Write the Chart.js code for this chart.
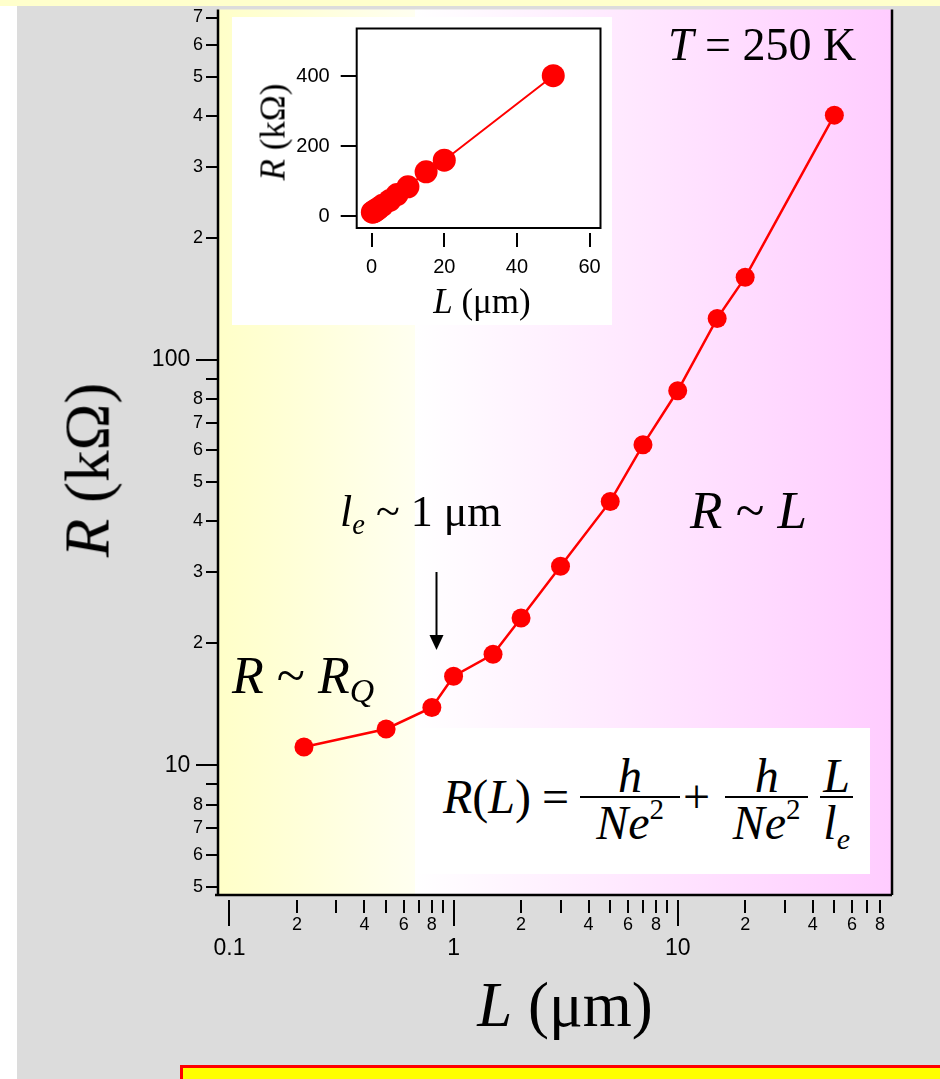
<!DOCTYPE html>
<html>
<head>
<meta charset="utf-8">
<title>R vs L at 250 K</title>
<script src="https://cdn.jsdelivr.net/npm/chart.js@4.4.1/dist/chart.umd.min.js"></script>
<style>
  html, body { margin: 0; padding: 0; background: #fff; }
  #page { position: relative; width: 940px; height: 1079px; overflow: hidden; background: #fff; }
  .abs { position: absolute; }
  #gray { left: 17px; top: 0; width: 923px; height: 1079px; background: #dcdcdc; }
  #topStrip { left: 0; top: 0; width: 940px; height: 6px; background: #ffffcc; }
  #bottomBox { left: 180px; top: 1065px; width: 780px; height: 40px; background: #ffff00; border: 3px solid #ff0000; box-sizing: border-box; }
  #mainChart { left: 0; top: 0; }
  #insetBox { left: 232px; top: 17px; width: 380px; height: 308px; background: #fff; }
  #formulaBox { left: 415px; top: 728px; width: 455px; height: 146px; background: #fff; }
  .txt { position: absolute; font-family: 'Liberation Serif', 'Times New Roman', serif; line-height: 1; white-space: nowrap; color: #000; }
  .sub { font-size: 0.65em; position: relative; top: 0.28em; }
  #formula { position: absolute; left: 443px; top: 746px; height: 102px; display: flex; align-items: center;
             font-family: 'Liberation Serif', 'Times New Roman', serif; font-size: 48px; color: #000; white-space: nowrap; }
  #formula .plain { line-height: 50px; height: 50px; }
  .frac { display: inline-flex; flex-direction: column; text-align: center; }
  .num { height: 50px; line-height: 50px; border-bottom: 2px solid #000; }
  .num i { position: relative; top: 5px; }
  .den { height: 50px; line-height: 50px; }
  .den sup { font-size: 29px; position: relative; top: -20px; vertical-align: baseline; line-height: 0; }
  .den .fsub { font-size: 30px; position: relative; top: 10px; line-height: 0; }
</style>
</head>
<body>
<div id="page">
  <div id="gray" class="abs"></div>
  <canvas id="mainChart" class="abs" width="940" height="1079"></canvas>

  <div id="insetBox" class="abs"><canvas id="insetChart" width="380" height="308"></canvas></div>
  <div class="txt" style="left:273px; top:132px; font-size:35px; transform:translate(-50%,-50%) rotate(-90deg);"><i>R</i> (kΩ)</div>
  <div class="txt" style="left:482px; top:283.7px; font-size:35px; transform:translateX(-50%);"><i>L</i> (μm)</div>

  <div class="txt" style="left:88px; top:470px; font-size:63px; transform:translate(-50%,-50%) rotate(-90deg);"><i>R</i> (kΩ)</div>
  <div class="txt" style="left:565px; top:974px; font-size:63px; transform:translateX(-50%);"><i>L</i> (μm)</div>

  <div class="txt" style="left:668px; top:21.5px; font-size:46px;"><i>T</i> = 250 K</div>
  <div class="txt" style="left:690px; top:483.5px; font-size:53px;"><i>R</i> ~ <i>L</i></div>
  <div class="txt" style="left:340px; top:490px; font-size:44px;"><i>l<span class="sub">e</span></i> ~ 1 μm</div>
  <div class="txt" style="left:232px; top:649.5px; font-size:52px;"><i>R</i> ~ <i>R<span class="sub">Q</span></i></div>

  <svg class="abs" style="left:424px; top:565px;" width="26" height="92">
    <line x1="12.5" y1="7" x2="12.5" y2="72" stroke="#000" stroke-width="2"/>
    <polygon points="5.5,70 19.5,70 12.5,85" fill="#000"/>
  </svg>

  <div id="formulaBox" class="abs"></div>
  <div id="formula">
    <span class="plain"><i>R</i>(<i>L</i>)</span>
    <span class="plain" style="margin-left:11px;">=</span>
    <span class="frac" style="margin-left:11px; width:100px;"><span class="num"><i>h</i></span><span class="den"><i>Ne</i><sup>2</sup></span></span>
    <span class="plain" style="margin-left:3px;">+</span>
    <span class="frac" style="margin-left:15px; width:83px;"><span class="num"><i>h</i></span><span class="den"><i>Ne</i><sup>2</sup></span></span>
    <span class="frac" style="margin-left:12px; width:33px;"><span class="num"><i>L</i></span><span class="den"><i>l<span class="fsub">e</span></i></span></span>
  </div>

  <div id="topStrip" class="abs"></div>
  <div id="bottomBox" class="abs"></div>
</div>

<script>
// measured points, L in micrometres and R in kilo-ohms
const lengthUm = [0.215, 0.5, 0.8, 1, 1.5, 2, 3, 5, 7, 10, 15, 20, 50];
const resistanceKOhm = [11.1, 12.3, 13.9, 16.6, 18.8, 23.1, 31.0, 44.8, 61.8, 84.0, 126.7, 160, 402];

const xTickValues = [0.1, 0.2, 0.3, 0.4, 0.5, 0.6, 0.7, 0.8, 0.9, 1, 2, 3, 4, 5, 6, 7, 8, 9, 10, 20, 30, 40, 50, 60, 70, 80];
const xTickLabels = ['0.1', '2', '', '4', '', '6', '', '8', '', '1', '2', '', '4', '', '6', '', '8', '', '10', '2', '', '4', '', '6', '', '8'];
const xMajorTicks = [0.1, 1, 10];

const yTickValues = [5, 6, 7, 8, 9, 10, 20, 30, 40, 50, 60, 70, 80, 90, 100, 200, 300, 400, 500, 600, 700];
const yTickLabels = ['5', '6', '7', '8', '', '10', '2', '3', '4', '5', '6', '7', '8', '', '100', '2', '3', '4', '5', '6', '7'];
const yMajorTicks = [10, 100];

const insetXTicks = [0, 20, 40, 60];
const insetYTicks = [0, 200, 400];

const points = lengthUm.map((x, i) => ({x: x, y: resistanceKOhm[i]}));

function isMajor(list, v) {
    return list.some(m => Math.abs(m - v) < 1e-9);
}

const plotBackground = {
    id: 'plotBackground',
    beforeDraw(chart) {
        const {ctx, chartArea: a} = chart;
        const split = 415;
        ctx.save();
        let g = ctx.createLinearGradient(a.left, 0, split, 0);
        g.addColorStop(0, '#ffffc8');
        g.addColorStop(1, '#fffff0');
        ctx.fillStyle = g;
        ctx.fillRect(a.left, a.top, split - a.left, a.bottom - a.top);
        g = ctx.createLinearGradient(split, 0, a.right, 0);
        g.addColorStop(0, '#ffffff');
        g.addColorStop(1, '#ffccff');
        ctx.fillStyle = g;
        ctx.fillRect(split, a.top, a.right - split, a.bottom - a.top);
        ctx.restore();
    }
};

const mainFrame = {
    id: 'mainFrame',
    beforeDatasetsDraw(chart) {
        const {ctx, chartArea: a, scales: {x, y}} = chart;
        ctx.save();
        ctx.strokeStyle = '#000';
        ctx.lineWidth = 2.5;
        ctx.beginPath();
        ctx.moveTo(a.left, a.top);
        ctx.lineTo(a.left, a.bottom);
        ctx.moveTo(a.left - 3, a.bottom);
        ctx.lineTo(a.right, a.bottom);
        ctx.moveTo(a.right, a.bottom);
        ctx.lineTo(a.right, a.top);
        ctx.stroke();

        ctx.lineWidth = 2;
        ctx.beginPath();
        y.ticks.forEach(t => {
            const py = Math.round(y.getPixelForValue(t.value));
            const len = isMajor(yMajorTicks, t.value) ? 22 : 12;
            ctx.moveTo(a.left - len, py);
            ctx.lineTo(a.left, py);
        });
        x.ticks.forEach(t => {
            const px = Math.round(x.getPixelForValue(t.value));
            const len = isMajor(xMajorTicks, t.value) ? 26 : 13;
            ctx.moveTo(px, a.bottom + 5);
            ctx.lineTo(px, a.bottom + 5 + len);
        });
        ctx.stroke();
        ctx.restore();
    }
};

const insetFrame = {
    id: 'insetFrame',
    beforeDatasetsDraw(chart) {
        const {ctx, chartArea: a, scales: {x, y}} = chart;
        ctx.save();
        ctx.strokeStyle = '#000';
        ctx.lineWidth = 2;
        ctx.strokeRect(a.left, a.top, a.right - a.left, a.bottom - a.top);
        ctx.beginPath();
        y.ticks.forEach(t => {
            const py = Math.round(y.getPixelForValue(t.value));
            ctx.moveTo(a.left - 16, py);
            ctx.lineTo(a.left, py);
        });
        x.ticks.forEach(t => {
            const px = Math.round(x.getPixelForValue(t.value));
            ctx.moveTo(px, a.bottom + 5);
            ctx.lineTo(px, a.bottom + 19);
        });
        ctx.stroke();
        ctx.restore();
    }
};

function noPadding(scale) {
    scale.paddingTop = 0;
    scale.paddingBottom = 0;
    scale.paddingLeft = 0;
    scale.paddingRight = 0;
}

new Chart(document.getElementById('mainChart'), {
    type: 'line',
    data: {
        datasets: [{
            data: points,
            borderColor: '#ff0000',
            borderWidth: 2.5,
            backgroundColor: '#ff0000',
            pointBackgroundColor: '#ff0000',
            pointBorderWidth: 0,
            pointRadius: 9.5,
            tension: 0,
            fill: false
        }]
    },
    options: {
        responsive: false,
        animation: false,
        events: [],
        layout: {padding: {left: 0, top: 6, right: 48, bottom: 0}},
        plugins: {legend: {display: false}, tooltip: {enabled: false}},
        scales: {
            x: {
                type: 'logarithmic',
                min: 0.0889,
                max: 90.4,
                grid: {display: false, drawTicks: false},
                border: {display: false},
                afterBuildTicks: s => { s.ticks = xTickValues.map(v => ({value: v, major: isMajor(xMajorTicks, v)})); },
                afterFit: s => { s.height = 184; noPadding(s); },
                ticks: {
                    autoSkip: false,
                    maxRotation: 0,
                    padding: 19,
                    color: '#000',
                    font: ctx => (ctx.tick && isMajor(xMajorTicks, ctx.tick.value))
                        ? {family: 'Liberation Sans', size: 23, lineHeight: 1}
                        : {family: 'Liberation Sans', size: 18},
                    callback: (value, i) => isMajor(xMajorTicks, value) ? ['', xTickLabels[i]] : xTickLabels[i]
                }
            },
            y: {
                type: 'logarithmic',
                min: 4.79,
                max: 732.6,
                grid: {display: false, drawTicks: false},
                border: {display: false},
                afterBuildTicks: s => { s.ticks = yTickValues.map(v => ({value: v, major: isMajor(yMajorTicks, v)})); },
                afterFit: s => { s.width = 218; noPadding(s); },
                ticks: {
                    autoSkip: false,
                    padding: 15,
                    color: '#000',
                    font: ctx => (ctx.tick && isMajor(yMajorTicks, ctx.tick.value))
                        ? {family: 'Liberation Sans', size: 23}
                        : {family: 'Liberation Sans', size: 18},
                    callback: (value, i) => isMajor(yMajorTicks, value) ? yTickLabels[i] + '  ' : yTickLabels[i]
                }
            }
        }
    },
    plugins: [plotBackground, mainFrame]
});

new Chart(document.getElementById('insetChart'), {
    type: 'line',
    data: {
        datasets: [{
            data: points,
            borderColor: '#ff0000',
            borderWidth: 2,
            backgroundColor: '#ff0000',
            pointBackgroundColor: '#ff0000',
            pointBorderWidth: 0,
            pointRadius: 11.5,
            tension: 0,
            fill: false
        }]
    },
    options: {
        responsive: false,
        animation: false,
        events: [],
        layout: {padding: {left: 0, top: 9.7, right: 9.3, bottom: 0}},
        plugins: {legend: {display: false}, tooltip: {enabled: false}},
        scales: {
            x: {
                type: 'linear',
                min: -4.1,
                max: 63,
                grid: {display: false, drawTicks: false},
                border: {display: false},
                afterBuildTicks: s => { s.ticks = insetXTicks.map(v => ({value: v})); },
                afterFit: s => { s.height = 97; noPadding(s); },
                ticks: {
                    autoSkip: false,
                    maxRotation: 0,
                    padding: 27,
                    color: '#000',
                    font: {family: 'Liberation Sans', size: 20},
                    callback: value => String(value)
                }
            },
            y: {
                type: 'linear',
                min: -34,
                max: 537,
                grid: {display: false, drawTicks: false},
                border: {display: false},
                afterBuildTicks: s => { s.ticks = insetYTicks.map(v => ({value: v})); },
                afterFit: s => { s.width = 124.7; noPadding(s); },
                ticks: {
                    autoSkip: false,
                    padding: 27,
                    color: '#000',
                    font: {family: 'Liberation Sans', size: 20},
                    callback: value => String(value)
                }
            }
        }
    },
    plugins: [insetFrame]
});
</script>
</body>
</html>
